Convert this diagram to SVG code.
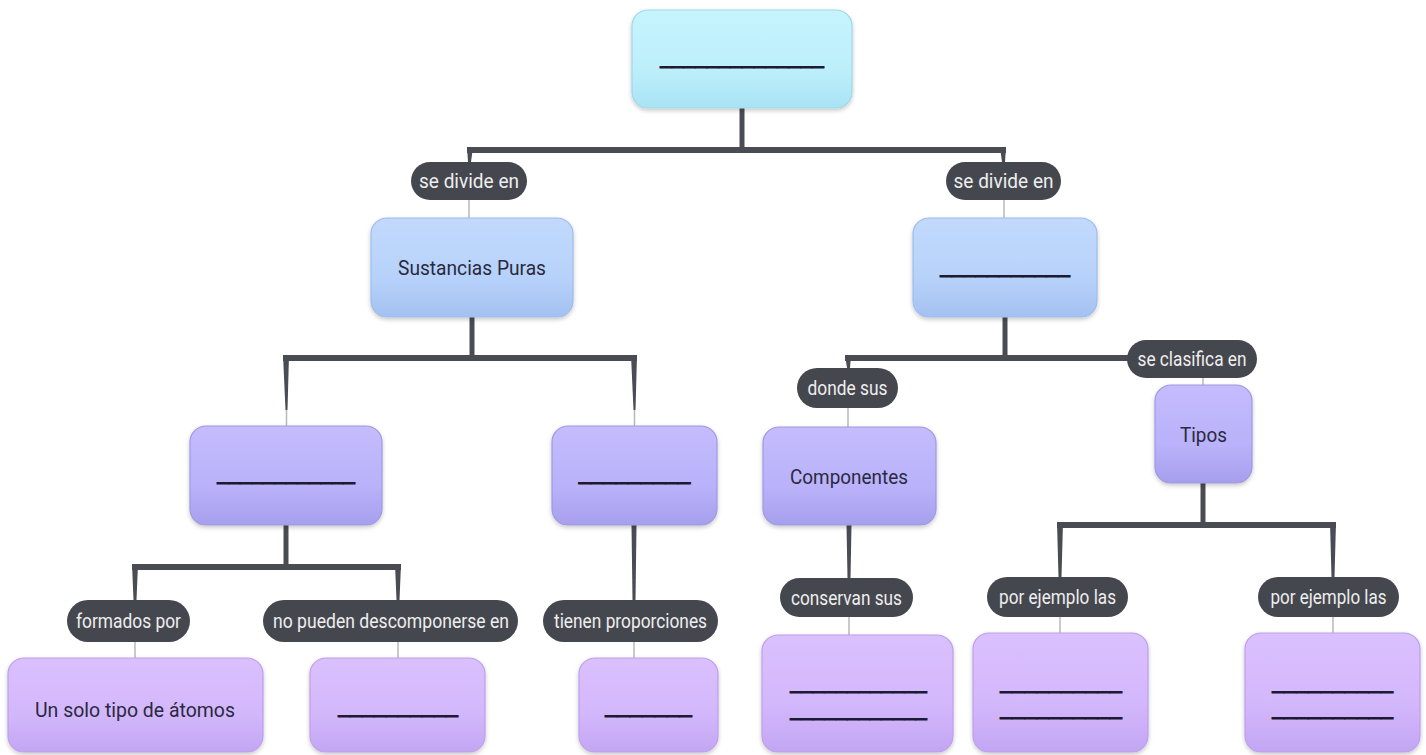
<svg xmlns="http://www.w3.org/2000/svg" width="1426" height="755" viewBox="0 0 1426 755">
  <defs>
    <linearGradient id="gCyan" x1="0" y1="0" x2="0" y2="1">
      <stop offset="0" stop-color="#c6f4fe"/>
      <stop offset="0.6" stop-color="#bdeffb"/>
      <stop offset="1" stop-color="#a9e3f4"/>
    </linearGradient>
    <linearGradient id="gBlue" x1="0" y1="0" x2="0" y2="1">
      <stop offset="0" stop-color="#c1d9fc"/>
      <stop offset="0.6" stop-color="#b7d2fa"/>
      <stop offset="1" stop-color="#a3c1f1"/>
    </linearGradient>
    <linearGradient id="gViolet" x1="0" y1="0" x2="0" y2="1">
      <stop offset="0" stop-color="#c4bcfd"/>
      <stop offset="0.6" stop-color="#bab2fa"/>
      <stop offset="1" stop-color="#a69fec"/>
    </linearGradient>
    <linearGradient id="gLilac" x1="0" y1="0" x2="0" y2="1">
      <stop offset="0" stop-color="#dbc0fe"/>
      <stop offset="0.6" stop-color="#d3b7fc"/>
      <stop offset="1" stop-color="#c3a6f3"/>
    </linearGradient>
    <filter id="shadow" x="-10%" y="-10%" width="120%" height="130%">
      <feDropShadow dx="0" dy="2" stdDeviation="2" flood-color="#000" flood-opacity="0.22"/>
    </filter>
  </defs>
  <style>
    .node rect { filter: url(#shadow); stroke-width: 1.2; }
    .cyan rect { fill: url(#gCyan); stroke: #9fd8e8; }
    .blue rect { fill: url(#gBlue); stroke: #9dbde9; }
    .violet rect { fill: url(#gViolet); stroke: #9f98e2; }
    .lilac rect { fill: url(#gLilac); stroke: #bba0ea; }
    .node text { font-family: Roboto, "Liberation Sans", sans-serif; font-size: 21px; fill: #2a2940; text-anchor: middle; }
    .node text.blank { fill: #1c1b33; stroke: #1c1b33; stroke-width: 0.9; }
    .label rect { fill: #45474f; }
    .label text { font-family: Roboto, "Liberation Sans", sans-serif; font-size: 20px; fill: #eeeeee; text-anchor: middle; }
    .thick { stroke: #4a4c53; stroke-width: 6; fill: none; }
    .stem { stroke: #4a4c53; stroke-width: 5; fill: none; }
    .drop { fill: #4a4c53; }
    .thin { stroke: #b9b9bd; stroke-width: 1.5; fill: none; }
  </style>

  <!-- connectors -->
  <g id="connectors">
    <!-- root to level 2 -->
    <line class="stem" x1="742" y1="108" x2="742" y2="150"/>
    <path class="thick" d="M467 150 H1006"/>
    <path class="drop" d="M467 147 H473 L471 162 H468 Z"/>
    <path class="drop" d="M1000 147 H1006 L1005 162 H1002 Z"/>
    <line class="thin" x1="469" y1="200" x2="469" y2="218"/>
    <line class="thin" x1="1004" y1="200" x2="1004" y2="218"/>

    <!-- Sustancias Puras to level 3 -->
    <line class="stem" x1="472" y1="317" x2="472" y2="358"/>
    <path class="thick" d="M283 358 H637"/>
    <path class="drop" d="M283 355 H289 L287.5 410 H285.5 Z"/>
    <path class="drop" d="M631 355 H637 L635.5 410 H633.5 Z"/>
    <line class="thin" x1="286.5" y1="410" x2="286.5" y2="427"/>
    <line class="thin" x1="634.5" y1="410" x2="634.5" y2="427"/>

    <!-- right level-2 node to its children -->
    <line class="stem" x1="1005" y1="317" x2="1005" y2="358"/>
    <path class="thick" d="M845 358 H1135"/>
    <path class="drop" d="M845 355 H851 L850 368 H847 Z"/>
    <line class="thin" x1="848" y1="408" x2="848" y2="427"/>
    <line class="thin" x1="1203" y1="378" x2="1203" y2="386"/>

    <!-- left level-3 node -->
    <line class="stem" x1="286" y1="525" x2="286" y2="567"/>
    <path class="thick" d="M132 567 H401"/>
    <path class="drop" d="M132 564 H138 L136.5 600 H133.5 Z"/>
    <path class="drop" d="M395 564 H401 L399.5 600 H396.5 Z"/>
    <line class="thin" x1="135" y1="642" x2="135" y2="658"/>
    <line class="thin" x1="398" y1="642" x2="398" y2="658"/>

    <!-- right level-3 node -->
    <path class="drop" d="M631.5 525 H636.5 L635.5 600 H632.5 Z"/>
    <line class="thin" x1="634" y1="642" x2="634" y2="658"/>

    <!-- Componentes -->
    <path class="drop" d="M846.5 525 H851.5 L850.5 578 H847.5 Z"/>
    <line class="thin" x1="849" y1="617" x2="849" y2="635"/>

    <!-- Tipos -->
    <line class="stem" x1="1203" y1="483" x2="1203" y2="525"/>
    <path class="thick" d="M1057 525 H1336"/>
    <path class="drop" d="M1057 522 H1063 L1061.5 577 H1058.5 Z"/>
    <path class="drop" d="M1330 522 H1336 L1334.5 577 H1331.5 Z"/>
    <line class="thin" x1="1060" y1="617" x2="1060" y2="633"/>
    <line class="thin" x1="1333" y1="617" x2="1333" y2="633"/>
  </g>

  <!-- connector labels -->
  <g id="label-divide-left" class="label">
    <rect x="411" y="162" width="116" height="38" rx="19"/>
    <text x="469" y="188" textLength="100" lengthAdjust="spacingAndGlyphs">se divide en</text>
  </g>
  <g id="label-divide-right" class="label">
    <rect x="946" y="162" width="115" height="38" rx="19"/>
    <text x="1003.5" y="188" textLength="100" lengthAdjust="spacingAndGlyphs">se divide en</text>
  </g>
  <g id="label-clasifica" class="label">
    <rect x="1127" y="340" width="130" height="38" rx="19"/>
    <text x="1192" y="366" textLength="109" lengthAdjust="spacingAndGlyphs">se clasifica en</text>
  </g>
  <g id="label-donde" class="label">
    <rect x="797" y="368" width="101" height="40" rx="20"/>
    <text x="847.5" y="395" textLength="80" lengthAdjust="spacingAndGlyphs">donde sus</text>
  </g>
  <g id="label-formados" class="label">
    <rect x="67" y="600" width="123" height="42" rx="21"/>
    <text x="128.5" y="628" textLength="105" lengthAdjust="spacingAndGlyphs">formados por</text>
  </g>
  <g id="label-descomponerse" class="label">
    <rect x="263" y="600" width="255" height="42" rx="21"/>
    <text x="391" y="628" textLength="236" lengthAdjust="spacingAndGlyphs">no pueden descomponerse en</text>
  </g>
  <g id="label-proporciones" class="label">
    <rect x="543" y="600" width="175" height="42" rx="21"/>
    <text x="630.5" y="628" textLength="153" lengthAdjust="spacingAndGlyphs">tienen proporciones</text>
  </g>
  <g id="label-conservan" class="label">
    <rect x="780" y="578" width="133" height="39" rx="19.5"/>
    <text x="846.5" y="604.5" textLength="111" lengthAdjust="spacingAndGlyphs">conservan sus</text>
  </g>
  <g id="label-ejemplo-left" class="label">
    <rect x="987" y="577" width="141" height="40" rx="20"/>
    <text x="1057.5" y="604" textLength="117" lengthAdjust="spacingAndGlyphs">por ejemplo las</text>
  </g>
  <g id="label-ejemplo-right" class="label">
    <rect x="1258" y="577" width="141" height="40" rx="20"/>
    <text x="1328.5" y="604" textLength="116" lengthAdjust="spacingAndGlyphs">por ejemplo las</text>
  </g>

  <!-- nodes -->
  <g id="node-root" class="node cyan">
    <rect x="632" y="10" width="220" height="98" rx="16"/>
    <text class="blank" x="742" y="66" textLength="164" lengthAdjust="spacingAndGlyphs">______________</text>
  </g>
  <g id="node-sustancias" class="node blue">
    <rect x="371" y="218" width="202" height="99" rx="16"/>
    <text x="472" y="275" textLength="148" lengthAdjust="spacingAndGlyphs">Sustancias Puras</text>
  </g>
  <g id="node-right-2" class="node blue">
    <rect x="913" y="218" width="184" height="99" rx="16"/>
    <text class="blank" x="1005" y="275" textLength="130" lengthAdjust="spacingAndGlyphs">___________</text>
  </g>
  <g id="node-left-3" class="node violet">
    <rect x="190" y="426" width="192" height="99" rx="16"/>
    <text class="blank" x="286" y="482" textLength="138" lengthAdjust="spacingAndGlyphs">____________</text>
  </g>
  <g id="node-right-3" class="node violet">
    <rect x="552" y="426" width="165" height="99" rx="16"/>
    <text class="blank" x="634.5" y="482" textLength="112" lengthAdjust="spacingAndGlyphs">_________</text>
  </g>
  <g id="node-componentes" class="node violet">
    <rect x="763" y="427" width="173" height="98" rx="16"/>
    <text x="849" y="484" textLength="118" lengthAdjust="spacingAndGlyphs">Componentes</text>
  </g>
  <g id="node-tipos" class="node violet">
    <rect x="1155" y="385" width="97" height="98" rx="16"/>
    <text x="1203.5" y="442" textLength="47" lengthAdjust="spacingAndGlyphs">Tipos</text>
  </g>
  <g id="node-atomos" class="node lilac">
    <rect x="8" y="658" width="255" height="94" rx="16"/>
    <text x="135" y="717" textLength="200" lengthAdjust="spacingAndGlyphs">Un solo tipo de átomos</text>
  </g>
  <g id="node-descomp" class="node lilac">
    <rect x="310" y="658" width="175" height="94" rx="16"/>
    <text class="blank" x="398" y="715" textLength="120" lengthAdjust="spacingAndGlyphs">__________</text>
  </g>
  <g id="node-proporciones" class="node lilac">
    <rect x="579" y="658" width="139" height="94" rx="16"/>
    <text class="blank" x="648.5" y="715" textLength="87" lengthAdjust="spacingAndGlyphs">_______</text>
  </g>
  <g id="node-conservan" class="node lilac">
    <rect x="762" y="635" width="191" height="117" rx="16"/>
    <text class="blank" x="858.5" y="691" textLength="137" lengthAdjust="spacingAndGlyphs">____________</text>
    <text class="blank" x="858.5" y="718" textLength="137" lengthAdjust="spacingAndGlyphs">____________</text>
  </g>
  <g id="node-ejemplo-left" class="node lilac">
    <rect x="973" y="633" width="175" height="119" rx="16"/>
    <text class="blank" x="1061" y="691" textLength="122" lengthAdjust="spacingAndGlyphs">__________</text>
    <text class="blank" x="1061" y="717" textLength="122" lengthAdjust="spacingAndGlyphs">__________</text>
  </g>
  <g id="node-ejemplo-right" class="node lilac">
    <rect x="1245" y="633" width="175" height="119" rx="16"/>
    <text class="blank" x="1332.5" y="691" textLength="121" lengthAdjust="spacingAndGlyphs">__________</text>
    <text class="blank" x="1332.5" y="717" textLength="121" lengthAdjust="spacingAndGlyphs">__________</text>
  </g>
</svg>
